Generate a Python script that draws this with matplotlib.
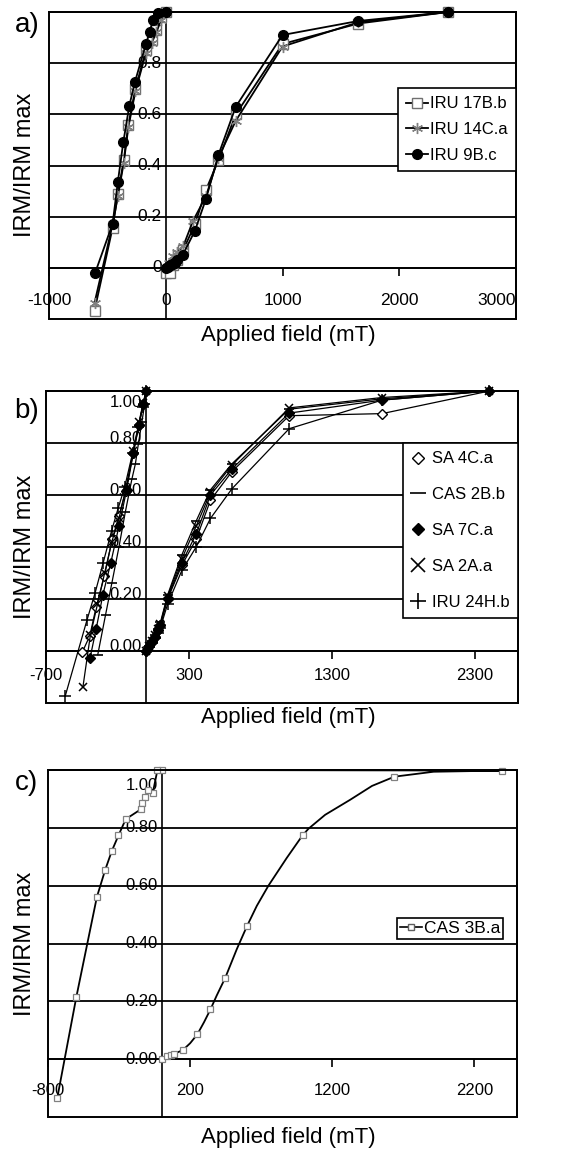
import numpy as np
import matplotlib
matplotlib.use("Agg")
import matplotlib.pyplot as plt
from matplotlib import font_manager
from matplotlib.patches import Rectangle
from matplotlib.lines import Line2D
from matplotlib.transforms import ScaledTranslation

REG = ["Liberation Sans", "DejaVu Sans"]
try:
    font_manager.findfont("Liberation Sans Narrow", fallback_to_default=False)
    NAR, NSIZE = ["Liberation Sans Narrow", "Liberation Sans", "DejaVu Sans"], 13
except ValueError:
    NAR, NSIZE = REG, 12

# ---- panel a : forward IRM and backfield ----
a_17Bb_fx = [0, 35, 60, 100, 150, 250, 345, 450, 600, 1000, 1650, 2420]
a_17Bb_fy = [-0.02, -0.02, 0.01, 0.03, 0.07, 0.17, 0.305, 0.42, 0.60, 0.875, 0.955, 1.0]
a_17Bb_bx = [0, -40, -80, -120, -170, -260, -320, -360, -410, -455, -610]
a_17Bb_by = [1.0, 0.98, 0.93, 0.89, 0.85, 0.70, 0.56, 0.42, 0.29, 0.157, -0.167]

a_14Ca_fx = [0, 30, 65, 95, 150, 235, 345, 450, 600, 1000, 1650, 2420]
a_14Ca_fy = [0.0, 0.02, 0.045, 0.06, 0.085, 0.185, 0.28, 0.43, 0.575, 0.865, 0.96, 1.0]
a_14Ca_bx = [0, -40, -80, -120, -170, -260, -320, -360, -410, -455, -610]
a_14Ca_by = [1.0, 0.97, 0.92, 0.88, 0.84, 0.69, 0.55, 0.41, 0.28, 0.17, -0.137]

a_9Bc_fx = [0, 20, 40, 60, 80, 100, 145, 250, 345, 450, 600, 1000, 1650, 2420]
a_9Bc_fy = [0.0, 0.005, 0.01, 0.015, 0.02, 0.03, 0.05, 0.145, 0.27, 0.44, 0.63, 0.91, 0.965, 1.0]
a_9Bc_bx = [0, -65, -112, -138, -169, -265, -312, -364, -410, -455, -605]
a_9Bc_by = [1.0, 0.996, 0.967, 0.92, 0.876, 0.725, 0.634, 0.49, 0.337, 0.173, -0.02]

a_xticks = [-1000, 0, 1000, 2000, 3000]
a_ylab = ["0", "0.2", "0.4", "0.6", "0.8"]

# ---- panel b ----
b_fx = [0, 20, 40, 60, 80, 100, 150, 250, 350, 450, 600, 1000, 1650, 2400]
b_4Ca_fy = [0, 0.02, 0.035, 0.055, 0.08, 0.1, 0.2, 0.33, 0.43, 0.58, 0.69, 0.905, 0.913, 1.0]
b_2Bb_fy = [0, 0.02, 0.04, 0.06, 0.085, 0.11, 0.215, 0.37, 0.50, 0.62, 0.72, 0.93, 0.97, 1.0]
b_7Ca_fy = [0, 0.02, 0.04, 0.055, 0.08, 0.1, 0.205, 0.34, 0.45, 0.60, 0.70, 0.915, 0.965, 1.0]
b_2Aa_fy = [0, 0.02, 0.04, 0.06, 0.085, 0.105, 0.21, 0.355, 0.48, 0.61, 0.715, 0.935, 0.975, 1.0]
b_24Hb_fy = [0, 0.015, 0.03, 0.05, 0.07, 0.09, 0.18, 0.31, 0.40, 0.51, 0.624, 0.855, 0.965, 1.0]

b_4Ca_bx = [0, -20, -50, -90, -144, -190, -237, -291, -349, -394, -446]
b_4Ca_by = [1.0, 0.95, 0.87, 0.76, 0.614, 0.52, 0.43, 0.29, 0.17, 0.058, -0.004]
b_2Bb_bx = [0, -10, -30, -54, -75, -100, -146, -190, -240, -284, -338]
b_2Bb_by = [1.0, 0.95, 0.88, 0.797, 0.72, 0.66, 0.533, 0.40, 0.26, 0.138, -0.014]
b_7Ca_bx = [0, -20, -50, -90, -136, -190, -248, -302, -349, -392]
b_7Ca_by = [1.0, 0.95, 0.87, 0.76, 0.62, 0.48, 0.337, 0.217, 0.086, -0.027]
b_2Aa_bx = [0, -20, -50, -90, -140, -190, -240, -290, -340, -390, -442]
b_2Aa_by = [1.0, 0.955, 0.88, 0.77, 0.625, 0.51, 0.42, 0.30, 0.18, 0.06, -0.139]
b_24Hb_bx = [0, -25, -55, -95, -150, -195, -241, -300, -356, -414, -566]
b_24Hb_by = [1.0, 0.94, 0.86, 0.76, 0.63, 0.55, 0.463, 0.34, 0.225, 0.118, -0.174]

b_xticks = [-700, 300, 1300, 2300]
b_ylab = ["0.00", "0.20", "0.40", "0.60", "0.80", "1.00"]

# ---- panel c ----
c_fx = [0, 35, 63, 89, 148, 251, 343, 446, 599, 991, 1638, 2394]
c_fy = [0.002, 0.011, 0.016, 0.019, 0.031, 0.086, 0.172, 0.28, 0.459, 0.774, 0.977, 0.998]
# curve traced between the measured points (smoothed line in the figure)
c_trace_x = [0, 35, 63, 89, 148, 200, 251, 298, 343, 387, 446, 528, 599, 669, 751, 880, 991,
             1033, 1150, 1326, 1480, 1638, 1913, 2394]
c_trace_y = [0.002, 0.011, 0.016, 0.019, 0.031, 0.055, 0.086, 0.128, 0.172, 0.22, 0.28, 0.38,
             0.459, 0.53, 0.60, 0.696, 0.774, 0.797, 0.845, 0.897, 0.945, 0.977, 0.994, 0.998]
c_bx = [0, -30, -63, -94, -115, -136, -147, -253, -304, -351, -398, -456, -601, -735]
c_by = [1.0, 1.0, 0.92, 0.93, 0.908, 0.887, 0.864, 0.83, 0.774, 0.72, 0.654, 0.561, 0.214, -0.135]

c_xticks = [-800, 200, 1200, 2200]
c_ylab = ["0.00", "0.20", "0.40", "0.60", "0.80", "1.00"]

W, H = 573, 1150
fig = plt.figure(figsize=(W / 100, H / 100), dpi=100)


def px_axes(l, t, r, b):
    return fig.add_axes([l / W, 1 - b / H, (r - l) / W, (b - t) / H])


def setup(ax, xlim, xticks, pad, fam, size):
    ax.set_xlim(xlim)
    ax.set_ylim(-0.2, 1.0)
    ax.spines["left"].set_position(("data", 0))
    ax.spines["bottom"].set_position(("data", 0))
    for s in ax.spines.values():
        s.set_linewidth(1.2)
    ax.add_patch(Rectangle((0, 0), 1, 1, transform=ax.transAxes, fill=False,
                           lw=1.4, ec="black", clip_on=False, zorder=6))
    ax.set_yticks(np.arange(0, 1.01, 0.2))
    ax.grid(axis="y", color="black", lw=1.3)
    ax.set_axisbelow(True)
    ax.tick_params(axis="y", length=0, labelleft=False)
    ax.set_xticks(xticks)
    ax.set_xticklabels([str(v) for v in xticks], family=fam, fontsize=size)
    ax.tick_params(axis="x", direction="out", length=6, width=1.2, pad=pad)


def ylabels(ax, labels, va, fam, size, top_shift):
    off = ScaledTranslation(-3 / 72, 0, fig.dpi_scale_trans)
    for i, s in enumerate(labels):
        v = i * 0.2
        tr = ax.transData + off
        al = va
        if v > 0.99:
            tr = tr + ScaledTranslation(0, -top_shift / 72, fig.dpi_scale_trans)
            al = "top"
        ax.text(0, v, s, transform=tr, ha="right", va=al, family=fam, fontsize=size, zorder=2)


def box_legend(leg):
    leg.get_frame().set_linewidth(1.2)
    leg.set_zorder(7)


# ---------- a ----------
ax = px_axes(49, 12, 516, 319)
setup(ax, (-1000, 3000), a_xticks, 12, REG, 12.5)
ax.get_xticklabels()[-1].set_ha("right")
ylabels(ax, a_ylab, "center", REG, 12.5, 0)
ax.plot(a_17Bb_fx + a_17Bb_bx, a_17Bb_fy + a_17Bb_by, "-", color="black", lw=1.3,
        marker="s", ms=7, mfc="white", mec="#707070", clip_on=False, label="IRU 17B.b", zorder=3)
ax.plot(a_14Ca_fx + a_14Ca_bx, a_14Ca_fy + a_14Ca_by, "-", color="black", lw=1.3,
        marker=(6, 2, 0), ms=8, mec="#808080", clip_on=False, label="IRU 14C.a", zorder=3)
ax.plot(a_9Bc_fx + a_9Bc_bx, a_9Bc_fy + a_9Bc_by, "-", color="black", lw=1.3,
        marker="o", ms=7, mfc="black", mec="black", clip_on=False, label="IRU 9B.c", zorder=4)
box_legend(ax.legend(loc="upper right", bbox_to_anchor=(1.0, 0.752), borderaxespad=0,
                     frameon=True, fancybox=False, edgecolor="black", framealpha=1,
                     prop={"family": REG, "size": 12}, handlelength=1.3, handletextpad=0.15,
                     labelspacing=0.65, borderpad=0.5))

# ---------- b ----------
ax = px_axes(46, 391, 518, 703)
setup(ax, (-700, 2600), b_xticks, 6, NAR, NSIZE)
ylabels(ax, b_ylab, "baseline", NAR, NSIZE, 3)
kw = dict(color="black", lw=0.9, clip_on=False, zorder=3)
ax.plot(b_fx + b_4Ca_bx, b_4Ca_fy + b_4Ca_by, marker="D", ms=5, mfc="white", mec="black", **kw)
ax.plot(b_fx + b_2Bb_bx, b_2Bb_fy + b_2Bb_by, marker="_", ms=7, mew=1.2, **kw)
ax.plot(b_fx + b_7Ca_bx, b_7Ca_fy + b_7Ca_by, marker="D", ms=5, mfc="black", mec="black", **kw)
ax.plot(b_fx + b_2Aa_bx, b_2Aa_fy + b_2Aa_by, marker="x", ms=6, mew=1.1, **kw)
ax.plot(b_fx + b_24Hb_bx, b_24Hb_fy + b_24Hb_by, marker="+", ms=8, mew=1.1, **kw)
handles = [
    Line2D([], [], ls="none", marker="D", ms=6, mfc="white", mec="black"),
    Line2D([], [], ls="none", marker="_", ms=12, mew=1.2, color="black"),
    Line2D([], [], ls="none", marker="D", ms=6, mfc="black", mec="black"),
    Line2D([], [], ls="none", marker="x", ms=10, mew=1.2, color="black"),
    Line2D([], [], ls="none", marker="+", ms=12, mew=1.2, color="black"),
]
names = ["SA 4C.a", "CAS 2B.b", "SA 7C.a", "SA 2A.a", "IRU 24H.b"]
box_legend(ax.legend(handles, names, loc="upper right", bbox_to_anchor=(1.0, 0.833),
                     borderaxespad=0, frameon=True, fancybox=False, edgecolor="black",
                     framealpha=1, prop={"family": NAR, "size": NSIZE}, handlelength=0.8,
                     handletextpad=0.45, labelspacing=1.25, borderpad=0.5))

# ---------- c ----------
ax = px_axes(48, 770, 517, 1117)
setup(ax, (-800, 2500), c_xticks, 11, NAR, NSIZE)
ylabels(ax, c_ylab, "center", NAR, NSIZE, 6)
ax.plot(c_trace_x + c_bx, c_trace_y + c_by, "-", color="black", lw=1.3, clip_on=False, zorder=3)
ax.plot(c_fx + c_bx, c_fy + c_by, ls="none", marker="s", ms=4.5, mfc="white", mec="#808080",
        mew=0.9, clip_on=False, zorder=4)
h = Line2D([], [], color="black", lw=1.2, marker="s", ms=4, mfc="white", mec="#606060")
box_legend(ax.legend([h], ["CAS 3B.a"], loc="upper right", bbox_to_anchor=(0.970, 0.573),
                     borderaxespad=0, frameon=True, fancybox=False, edgecolor="black",
                     framealpha=1, prop={"family": NAR, "size": NSIZE + 0.5},
                     handlelength=1.3, handletextpad=0.1, borderpad=0.15))

# ---------- shared texts ----------
for lab, y in [("a)", 25), ("b)", 411), ("c)", 783)]:
    fig.text(27 / W, 1 - y / H, lab, ha="center", va="center", fontsize=20, family=REG)
for y in [335, 718, 1137]:
    fig.text(288 / W, 1 - y / H, "Applied field (mT)", ha="center", va="center",
             fontsize=16, family=REG)
for y in [165, 547, 944]:
    fig.text(25 / W, 1 - y / H, "IRM/IRM max", ha="center", va="center", rotation=90,
             fontsize=17, family=REG)

fig.savefig("out.png", dpi=100)
